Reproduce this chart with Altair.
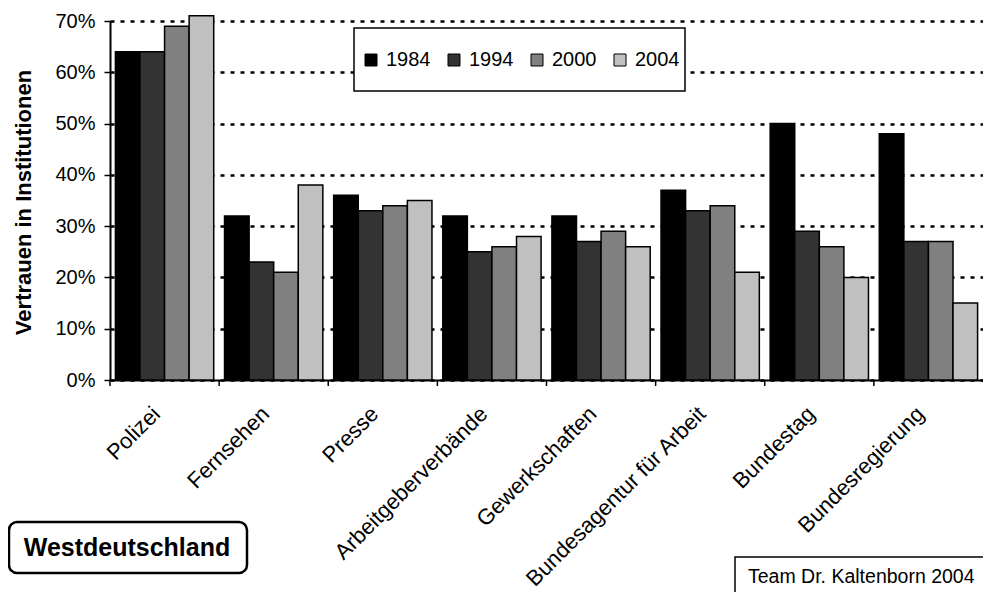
import altair as alt
import pandas as pd

categories = ["Polizei", "Fernsehen", "Presse", "Arbeitgeberverbände", "Gewerkschaften",
              "Bundesagentur für Arbeit", "Bundestag", "Bundesregierung"]
years = ["1984", "1994", "2000", "2004"]
v1984 = [64, 32, 36, 32, 32, 37, 50, 48]
v1994 = [64, 23, 33, 25, 27, 33, 29, 27]
v2000 = [69, 21, 34, 26, 29, 34, 26, 27]
v2004 = [71, 38, 35, 28, 26, 21, 20, 15]
colors = ["#000000", "#333333", "#808080", "#c0c0c0"]
y_ticks = [0, 0.1, 0.2, 0.3, 0.4, 0.5, 0.6, 0.7]

series = {"1984": v1984, "1994": v1994, "2000": v2000, "2004": v2004}
rows = []
for yr in years:
    for cat, v in zip(categories, series[yr]):
        rows.append({"Institution": cat, "Jahr": yr, "Wert": v / 100})
df = pd.DataFrame(rows)

W, H = 873, 359
FONT = "Liberation Sans"

x_axis = alt.Axis(title=None, labelAngle=-45, labelAlign="right", labelBaseline="middle",
                  ticks=False, domainColor="black", domainWidth=2, labelFontSize=22,
                  labelPadding=30, labelOffset=-8,
                  labelColor="black", labelFont=FONT, labelLimit=400)

x_enc = alt.X("Institution:N", sort=categories,
              scale=alt.Scale(paddingInner=0, paddingOuter=0), axis=x_axis)

bars = alt.Chart(df).mark_bar(stroke="black", strokeWidth=1.5).encode(
    x=x_enc,
    xOffset=alt.XOffset("Jahr:N", sort=years,
                        scale=alt.Scale(paddingOuter=0.22, paddingInner=0)),
    y=alt.Y("Wert:Q", scale=alt.Scale(domain=[0, 0.7], nice=False),
            axis=alt.Axis(values=y_ticks, format=".0%", grid=True, gridDash=[4, 6],
                          gridColor="black", gridWidth=2.5, tickSize=6, tickColor="black",
                          tickWidth=1.5, domainColor="black", domainWidth=2,
                          labelFontSize=20, labelPadding=9, labelColor="black",
                          labelFont=FONT,
                          title="Vertrauen in Institutionen", titleFontSize=22,
                          titleFontWeight="bold", titleColor="black", titleFont=FONT,
                          titleX=-87, titleY=181, titleAlign="center",
                          titleBaseline="middle", titleAngle=-90)),
    color=alt.Color("Jahr:N", sort=years,
                    scale=alt.Scale(domain=years, range=colors),
                    legend=alt.Legend(orient="none", legendX=251, legendY=29,
                                      direction="horizontal", columns=4, title=None,
                                      symbolType="square", symbolSize=144,
                                      symbolStrokeColor="black", symbolStrokeWidth=1,
                                      symbolOpacity=1,
                                      labelFontSize=20, labelOffset=5, columnPadding=13,
                                      labelFont=FONT, labelColor="black", padding=0)),
)

tick_df = pd.DataFrame({"Institution": categories})
ticks = alt.Chart(tick_df).mark_rule(color="black", strokeWidth=1.5).encode(
    x=alt.X("Institution:N", sort=categories, bandPosition=0,
            scale=alt.Scale(paddingInner=0, paddingOuter=0), axis=x_axis),
    y=alt.value(H), y2=alt.value(H + 6),
)

one = pd.DataFrame({"a": [0]})
legend_box = alt.Chart(one).mark_rect(fill="white", stroke="black", strokeWidth=1.5).encode(
    x=alt.value(244), x2=alt.value(575), y=alt.value(7), y2=alt.value(70))

west_box = alt.Chart(one).mark_rect(fill="white", stroke="black", strokeWidth=2.5,
                                    cornerRadius=8).encode(
    x=alt.value(-101), x2=alt.value(137), y=alt.value(501), y2=alt.value(552))
west_text = alt.Chart(one).mark_text(fontSize=25, fontWeight="bold", font=FONT,
                                     align="center", baseline="middle", color="black").encode(
    x=alt.value(17), y=alt.value(527), text=alt.value("Westdeutschland"))

team_box = alt.Chart(one).mark_rect(fill="white", stroke="black", strokeWidth=1.5).encode(
    x=alt.value(625), x2=alt.value(890), y=alt.value(536), y2=alt.value(590))
team_text = alt.Chart(one).mark_text(fontSize=19.5, font=FONT, align="left",
                                     baseline="middle", color="black").encode(
    x=alt.value(638), y=alt.value(556), text=alt.value("Team Dr. Kaltenborn 2004"))

chart = alt.layer(bars, ticks, legend_box, west_box, west_text, team_box, team_text).properties(
    width=W, height=H,
    autosize=alt.AutoSizeParams(type="none"),
    padding={"left": 102, "top": 13, "right": 0, "bottom": 212},
).configure(font=FONT).configure_view(stroke=None)

chart.save("out.html", embed_options={"renderer": "svg", "actions": False})
